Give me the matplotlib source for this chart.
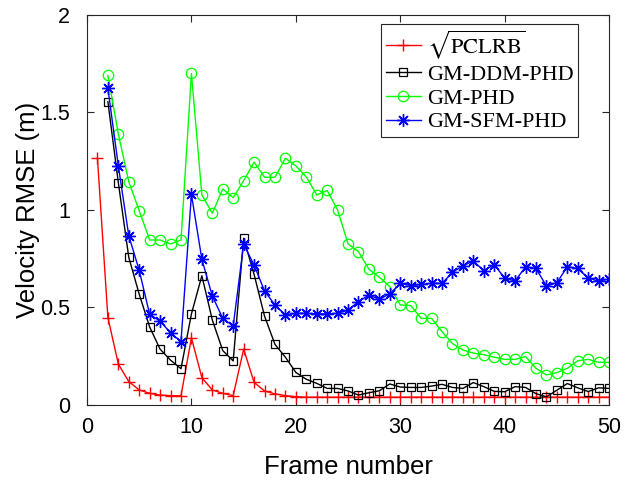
import numpy as np
import matplotlib
matplotlib.use("Agg")
import matplotlib.pyplot as plt

# Данные
frames_pclrb = np.arange(1, 51)
frames = np.arange(2, 51)

pclrb = [1.265, 0.448, 0.21, 0.12, 0.077, 0.06, 0.051, 0.048, 0.047, 0.345,
         0.14, 0.077, 0.06, 0.048, 0.287, 0.116, 0.072, 0.057, 0.048, 0.043,
         0.04, 0.04, 0.04, 0.04, 0.04, 0.04, 0.04, 0.04, 0.04, 0.04,
         0.04, 0.04, 0.04, 0.04, 0.04, 0.04, 0.04, 0.04, 0.04, 0.04,
         0.04, 0.04, 0.04, 0.04, 0.04, 0.04, 0.04, 0.04, 0.04, 0.04]

gm_ddm_phd = [1.555, 1.14, 0.757, 0.568, 0.40, 0.286, 0.23, 0.186, 0.467,
              0.663, 0.436, 0.279, 0.226, 0.855, 0.67, 0.456, 0.311, 0.245,
              0.167, 0.132, 0.111, 0.085, 0.085, 0.072, 0.051, 0.063, 0.073,
              0.108, 0.092, 0.09, 0.09, 0.097, 0.106, 0.09, 0.085, 0.115,
              0.094, 0.07, 0.068, 0.094, 0.09, 0.058, 0.042, 0.076, 0.11,
              0.088, 0.069, 0.088, 0.085]

gm_phd = [1.69, 1.39, 1.145, 0.996, 0.846, 0.846, 0.826, 0.846, 1.70,
          1.077, 0.983, 1.108, 1.063, 1.15, 1.245, 1.168, 1.168, 1.265,
          1.226, 1.17, 1.077, 1.10, 1.0, 0.826, 0.786, 0.696, 0.655,
          0.607, 0.513, 0.51, 0.444, 0.444, 0.376, 0.315, 0.282, 0.266,
          0.258, 0.245, 0.234, 0.234, 0.248, 0.188, 0.154, 0.166, 0.188,
          0.227, 0.234, 0.219, 0.219]

gm_sfm_phd = [1.624, 1.226, 0.868, 0.69, 0.465, 0.43, 0.37, 0.325, 1.08,
              0.747, 0.559, 0.444, 0.405, 0.824, 0.718, 0.585, 0.513, 0.462,
              0.47, 0.47, 0.467, 0.467, 0.47, 0.487, 0.53, 0.564, 0.542,
              0.57, 0.624, 0.612, 0.618, 0.624, 0.624, 0.68, 0.714, 0.738,
              0.689, 0.72, 0.65, 0.636, 0.709, 0.70, 0.61, 0.627, 0.709,
              0.70, 0.65, 0.636, 0.646]

plt.rcParams['font.family'] = ['Liberation Sans', 'DejaVu Sans']
plt.rcParams['mathtext.fontset'] = 'stix'

fig = plt.figure(figsize=(6.26, 4.83), dpi=100)
ax = fig.add_axes([0.139, 0.1615, 0.834, 0.8075])

lw = 1.0
asterisk = (8, 2, 0)
ax.plot(frames_pclrb, pclrb, color='red', marker='+', ms=9, mew=1.0, lw=lw,
        label=r'$\sqrt{\mathrm{PCLRB}}$')
ax.plot(frames, gm_ddm_phd, color='black', marker='s', ms=6, mew=0.9, mfc='none', lw=lw,
        label='GM-DDM-PHD')
ax.plot(frames, gm_phd, color=(0, 1, 0), marker='o', ms=7.5, mew=0.9, mfc='none', lw=lw,
        label='GM-PHD')
ax.plot(frames, gm_sfm_phd, color='blue', marker=asterisk, ms=9, mew=1.0, lw=lw,
        label='GM-SFM-PHD')

ax.set_xlim(0, 50)
ax.set_ylim(0, 2)
ax.set_xticks([0, 10, 20, 30, 40, 50])
ax.set_yticks([0, 0.5, 1, 1.5, 2])
ax.set_yticklabels(['0', '0.5', '1', '1.5', '2'])
ax.tick_params(direction='in', top=True, right=True, labelsize=15.5, length=5,
               color='#262626', width=0.8)
ax.tick_params(axis='x', pad=9)
ax.tick_params(axis='y', pad=12)
for s in ax.spines.values():
    s.set_color('#262626')
    s.set_linewidth(0.8)

ax.set_xlabel('Frame number', fontsize=18.5, labelpad=12)
ax.set_ylabel('Velocity RMSE (m)', fontsize=18.5, labelpad=0)

leg = ax.legend(loc='upper right', bbox_to_anchor=(0.94, 0.978), fancybox=False,
                framealpha=1, edgecolor='#262626', borderaxespad=0,
                prop={'family': ['Liberation Serif', 'DejaVu Serif'], 'size': 16},
                handlelength=1.6, handletextpad=0.25, labelspacing=0.15,
                borderpad=0.2)
leg.get_frame().set_linewidth(0.8)

fig.savefig('out.png', dpi=100)
